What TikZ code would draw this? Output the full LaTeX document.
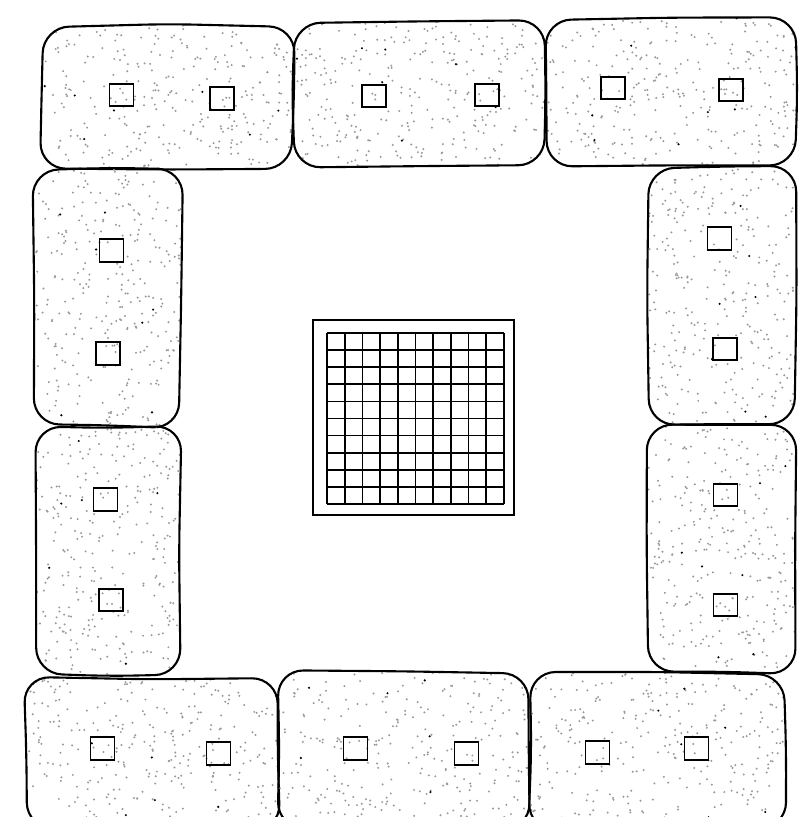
\documentclass[tikz,border=0pt]{standalone}
\usepackage{tikz}

\tikzset{
    stone/.style={line width=1.8pt, rounded corners=22pt},
    speck/.style={fill=gray!80},
    grit/.style={fill=black},
    hole/.style={draw, line width=1.6pt, minimum width=0.72cm, minimum height=0.68cm, inner sep=0pt}
}

\begin{document}
\begin{tikzpicture}[x=0.03cm, y=-0.03cm]
    % Page frame
    \useasboundingbox (0,0) rectangle (802,817);
    \clip (0,0) rectangle (802,817);
    \pgfmathsetseed{4711}

    % Stone blocks: number / corners / two holes
    \foreach \n/\xa/\ya/\xb/\yb/\pa/\qa/\pb/\qb in {
        1/42/25/293/170/121.5/95/222/98.5,
        2/293/22/545/167/374/96/487/95,
        3/546/18/797/165/613/88/731/90,
        4/35/168/181/426/111.5/250.5/108/353.5,
        5/35/427/180/675/105.5/499.5/111/600,
        6/648/167/796/425/719.5/238.5/725/349,
        7/648/425/795/673/725.5/495/725.5/605,
        8/26/679/278/828/102.5/748.5/218.5/753.5,
        9/279/672/528/828/355.5/748.5/466.5/753.5,
        10/530/673/785/828/597.5/752.5/696.5/748.5}
    {
        \pgfmathsetmacro\ja{(rnd-0.5)*5}
        \pgfmathsetmacro\jb{(rnd-0.5)*5}
        \pgfmathsetmacro\jc{(rnd-0.5)*5}
        \pgfmathsetmacro\jd{(rnd-0.5)*5}
        \pgfmathsetmacro\je{(rnd-0.5)*3}
        \pgfmathsetmacro\jf{(rnd-0.5)*3}
        \pgfmathsetmacro\xm{(\xa+\xb)/2}
        \pgfmathsetmacro\ym{(\ya+\yb)/2}
        \def\stonepath{({\xm+\je},{\ya+\jf}) -- ({\xb+\ja},{\ya-\jb}) -- ({\xb-\jf},{\ym+\jc})
            -- ({\xb-\jc},{\yb+\jd}) -- ({\xm},{\yb-\je}) -- ({\xa+\jb},{\yb-\ja})
            -- ({\xa-\je},{\ym+\jd}) -- ({\xa-\jd},{\ya+\jc}) -- cycle}
        \begin{scope}
            \clip[rounded corners=22pt] \stonepath;
            \foreach \k in {1,...,300}
                \fill[speck] ({\xa+rnd*(\xb-\xa)},{\ya+rnd*(\yb-\ya)}) circle (0.95pt);
            \foreach \k in {1,...,7}
                \fill[grit] ({\xa+rnd*(\xb-\xa)},{\ya+rnd*(\yb-\ya)}) circle (1pt);
        \end{scope}
        \draw[stone] \stonepath;

        % the two holes
        \node[hole] (h\n a) at (\pa,\qa) {};
        \node[hole] (h\n b) at (\pb,\qb) {};
    }

    % Central grate
    \draw[line width=1.6pt] (313,320) rectangle (514,515);
    \foreach \i in {0,...,10} {
        \draw[line width=1.5pt] ({327+\i*17.7},333) -- ({327+\i*17.7},504);
        \draw[line width=1.5pt] (327,{333+\i*17.1}) -- (504,{333+\i*17.1});
    }
\end{tikzpicture}
\end{document}
